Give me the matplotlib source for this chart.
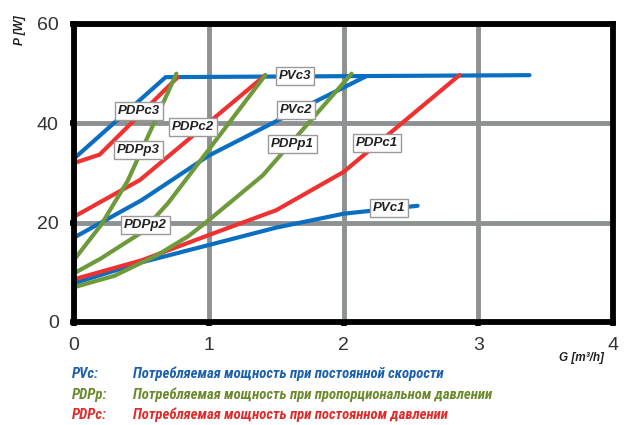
import matplotlib
matplotlib.use("Agg")
import matplotlib.pyplot as plt

# ---------------- data ----------------
pvc1_x = [0.0, 0.5, 1.0, 1.5, 2.0, 2.55]
pvc1_y = [7.8, 12.0, 15.5, 19.0, 21.8, 23.4]
pvc2_x = [0.0, 0.5, 1.0, 1.6, 2.17]
pvc2_y = [17.0, 24.5, 33.5, 41.8, 49.5]
pvc3_x = [0.0, 0.68, 3.38]
pvc3_y = [32.9, 49.3, 49.7]

pdpp1_x = [0.0, 0.3, 0.62, 0.85, 1.0, 1.4, 2.06]
pdpp1_y = [7.0, 9.3, 13.5, 17.3, 20.5, 29.5, 50.0]
pdpp2_x = [0.0, 0.2, 0.5, 0.7, 1.42]
pdpp2_y = [9.8, 12.8, 18.0, 24.0, 49.7]
pdpp3_x = [0.0, 0.2, 0.4, 0.76]
pdpp3_y = [12.5, 19.5, 28.5, 50.0]

pdpc1_x = [0.0, 0.5, 1.0, 1.5, 2.0, 2.86]
pdpc1_y = [8.6, 12.4, 17.5, 22.5, 30.2, 49.7]
pdpc2_x = [0.0, 0.49, 1.42]
pdpc2_y = [21.2, 28.6, 49.7]
pdpc3_x = [0.0, 0.19, 0.77]
pdpc3_y = [32.0, 33.7, 49.3]

x_ticks = [0, 1, 2, 3, 4]
y_ticks = [0, 20, 40, 60]

labels = ["PVc3", "PVc2", "PVc1", "PDPc3", "PDPc2", "PDPc1", "PDPp3", "PDPp2", "PDPp1"]
label_x = [1.64, 1.65, 2.34, 0.48, 0.88, 2.25, 0.48, 0.53, 1.62]
label_y = [49.5, 42.7, 22.9, 42.5, 39.3, 36.0, 34.6, 19.5, 35.8]

legend_keys = ["PVc:", "PDPp:", "PDPc:"]
legend_texts = ["Потребляемая мощность при постоянной скорости",
                "Потребляемая мощность при пропорциональном давлении",
                "Потребляемая мощность при постоянном давлении"]

BLUE = "#0a6fc0"
GREEN = "#6f9a3c"
RED = "#ee3232"
LEG_COL = ["#1a5fb0", "#6a8a2c", "#e32a2a"]

fig = plt.figure(figsize=(6.29, 4.25), dpi=100)
ax = fig.add_axes([74/629, 1-322/425, (613-74)/629, (322-24)/425])

ax.set_xlim(0, 4)
ax.set_ylim(0, 60)

kw = dict(lw=3.0, solid_capstyle="round", solid_joinstyle="round", clip_on=True)
ax.plot(pvc1_x, pvc1_y, color=BLUE, zorder=3, **kw)
ax.plot(pvc2_x, pvc2_y, color=BLUE, zorder=3, **kw)
ax.plot(pvc3_x, pvc3_y, color=BLUE, zorder=3, **kw)
ax.plot(pdpc1_x, pdpc1_y, color=RED, zorder=4, **kw)
ax.plot(pdpc2_x, pdpc2_y, color=RED, zorder=4, **kw)
ax.plot(pdpc3_x, pdpc3_y, color=RED, zorder=4, **kw)
ax.plot(pdpp1_x, pdpp1_y, color=GREEN, zorder=5, **kw)
ax.plot(pdpp2_x, pdpp2_y, color=GREEN, zorder=5, **kw)
ax.plot(pdpp3_x, pdpp3_y, color=GREEN, zorder=5, **kw)

for t, lx, ly in zip(labels, label_x, label_y):
    ax.text(lx, ly, t, ha="center", va="center", fontsize=9.5,
            fontweight="bold", fontstyle="italic", color="#222222",
            family=["Liberation Sans", "DejaVu Sans"], zorder=6,
            bbox=dict(boxstyle="square,pad=0.22", fc="white", ec="#9a9a9a", lw=1.0))

ax.set_xticks(x_ticks)
ax.set_yticks(y_ticks)
ax.set_xticklabels([str(v) for v in x_ticks])
ax.set_yticklabels([str(v) for v in y_ticks])
ax.grid(True, color="#8e9192", lw=3.5, zorder=1)
ax.set_axisbelow(True)
for s in ax.spines.values():
    s.set_linewidth(4.2)
    s.set_color("black")
    s.set_zorder(7)
ax.tick_params(axis="both", length=3, width=4, color="black", pad=8,
               labelsize=14, labelcolor="#333333")
for lab in ax.get_xticklabels() + ax.get_yticklabels():
    lab.set_family(["Liberation Sans", "DejaVu Sans"])

fig.text(20/629, 1-30/425, "P [W]", rotation=90, ha="center", va="center",
         fontsize=8.5, fontweight="bold", fontstyle="italic", color="#222222",
         family=["Liberation Sans", "DejaVu Sans"])
fig.text(604/629, 1-358/425, "G [m³/h]", ha="right", va="center",
         fontsize=8.5, fontweight="bold", fontstyle="italic", color="#222222",
         family=["Liberation Sans", "DejaVu Sans"])

LEG_FAMILY = ["Roboto Condensed", "Liberation Sans Narrow", "DejaVu Sans"]
row_y = [374, 395, 415]
for k, t, c, ry in zip(legend_keys, legend_texts, LEG_COL, row_y):
    fig.text(72/629, 1-ry/425, k, ha="left", va="center", fontsize=10.6,
             fontweight="bold", fontstyle="italic", fontstretch="condensed", color=c,
             family=LEG_FAMILY)
    fig.text(133/629, 1-ry/425, t, ha="left", va="center", fontsize=10.6,
             fontweight="bold", fontstyle="italic", fontstretch="condensed", color=c,
             family=LEG_FAMILY)

fig.savefig("out.png", dpi=100)
